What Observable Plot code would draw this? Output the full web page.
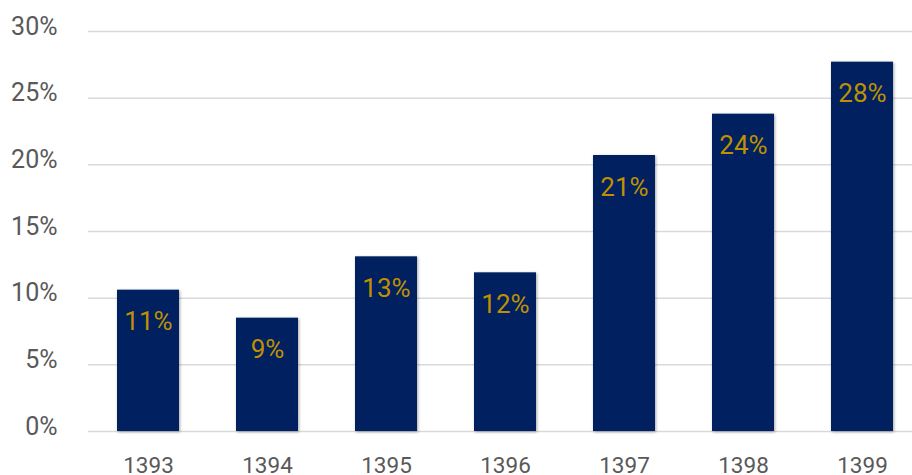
<!DOCTYPE html>
<html>
<head>
<meta charset="utf-8">
<script src="https://cdn.jsdelivr.net/npm/d3@7"></script>
<script src="https://cdn.jsdelivr.net/npm/@observablehq/plot@0.6"></script>
<style>
  html, body { margin: 0; padding: 0; background: #fff; }
  svg { display: block; }
</style>
</head>
<body>
<div id="chart"></div>
<script>
const years = ["1393", "1394", "1395", "1396", "1397", "1398", "1399"];
const values = [10.6, 8.5, 13.1, 11.9, 20.7, 23.8, 27.7];
const labels = ["11%", "9%", "13%", "12%", "21%", "24%", "28%"];
const yTicks = [0, 5, 10, 15, 20, 25, 30];

const data = years.map((y, i) => ({year: y, value: values[i], label: labels[i]}));

const chart = Plot.plot({
  width: 912,
  height: 475,
  marginLeft: 88,
  marginRight: 0,
  marginTop: 31,
  marginBottom: 44,
  style: {fontFamily: "Roboto, sans-serif", color: "#595959", background: "#fff"},
  x: {domain: years, range: [88.5, 921.5], paddingInner: 0.48, paddingOuter: 0.24, label: null},
  y: {domain: [0, 30], label: null},
  marks: [
    Plot.ruleY(yTicks, {stroke: "#d9d9d9", strokeWidth: 1.5}),
    Plot.axisY(yTicks, {tickSize: 0, tickPadding: 31, tickFormat: d => d + "%", fontSize: 25, dy: -5, fill: "#595959", label: null}),
    Plot.axisX({tickSize: 0, tickPadding: 26, fontSize: 22.5, fill: "#595959", label: null}),
    Plot.barY(data, {x: "year", y: "value", fill: "#002060"}),
    Plot.text(data, {x: "year", y: "value", text: "label", dy: 32, fill: "#bf9000", fontSize: 26})
  ]
});
d3.select(chart).selectAll("g[aria-label='bar']").style("filter", "drop-shadow(1px 1px 1.5px rgba(0,0,0,0.35))");
document.getElementById("chart").appendChild(chart);
</script>
</body>
</html>
